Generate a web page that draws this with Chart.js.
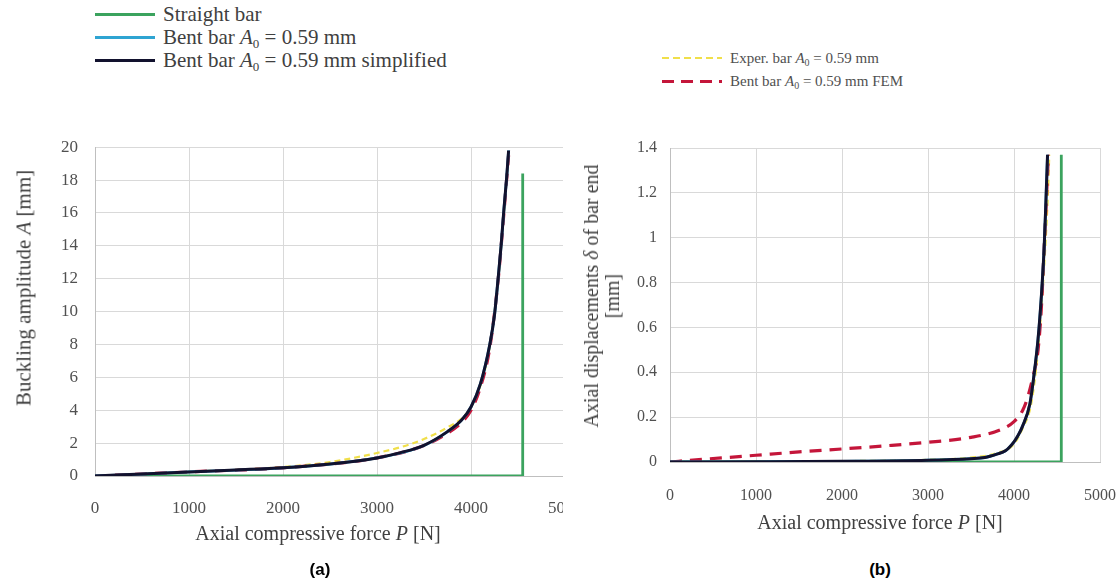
<!DOCTYPE html>
<html><head><meta charset="utf-8">
<script src="https://cdn.jsdelivr.net/npm/chart.js@4.4.0/dist/chart.umd.min.js"></script>
<style>
html,body{margin:0;padding:0;background:#fff;width:1120px;height:587px;overflow:hidden;position:relative;font-family:"Liberation Serif",serif;color:#404040}
.leg{position:absolute;white-space:nowrap}
.leg .ln{position:absolute;left:0;width:60px}
.leg .tx{position:absolute;top:0}
.lg1{font-size:21px;height:22px;line-height:22px}
.lg1 .ln{top:10px}
.lg1 .tx{left:68px}
.lg2{font-size:15px;height:20px;line-height:20px;color:#505050}
.lg2 .ln{top:9px}
.lg2 .tx{left:68px}
.ttl{position:absolute;font-size:20px;white-space:nowrap;transform:translate(-50%,-50%)}
.rot{transform:translate(-50%,-50%) rotate(-90deg);text-align:center;line-height:21px}
.cap{position:absolute;font-family:"Liberation Sans",Arial,sans-serif;font-weight:bold;font-size:17px;color:#000;transform:translate(-50%,-50%)}
.lg1 sub{font-size:13px;vertical-align:-4px;line-height:0}
.lg2 sub{font-size:10px;vertical-align:-3px;line-height:0}
</style>
</head><body>

<div class="leg lg1" style="left:95px;top:3px"><div class="ln" style="height:3px;background:#3ba35e"></div><div class="tx">Straight bar</div></div>
<div class="leg lg1" style="left:95px;top:26px"><div class="ln" style="height:3px;background:#2ea4d2"></div><div class="tx">Bent bar <i>A</i><sub>0</sub> = 0.59 mm</div></div>
<div class="leg lg1" style="left:95px;top:49px"><div class="ln" style="height:3px;background:#12122e"></div><div class="tx">Bent bar <i>A</i><sub>0</sub> = 0.59 mm simplified</div></div>
<div class="leg lg2" style="left:662px;top:48px"><div class="ln" style="height:2px;background:repeating-linear-gradient(90deg,#f0df4a 0 7px,transparent 7px 11px)"></div><div class="tx">Exper. bar <i>A</i><sub>0</sub> = 0.59 mm</div></div>
<div class="leg lg2" style="left:662px;top:71px"><div class="ln" style="height:3px;background:repeating-linear-gradient(90deg,#c4163a 0 12px,transparent 12px 19px)"></div><div class="tx">Bent bar <i>A</i><sub>0</sub> = 0.59 mm FEM</div></div>

<div style="position:absolute;left:0;top:120px;width:563px;height:420px;overflow:hidden">
  <canvas id="ca" width="610" height="420"></canvas>
</div>
<div style="position:absolute;left:600px;top:120px;width:545px;height:420px">
  <canvas id="cb" width="545" height="420"></canvas>
</div>

<div class="ttl rot" style="left:24px;top:288px;font-size:21px">Buckling amplitude <i>A</i> [mm]</div>
<div class="ttl" style="left:318px;top:533px">Axial compressive force <i>P</i> [N]</div>
<div class="ttl rot" style="left:602px;top:296px">Axial displacements <i>δ</i> of bar end<br>[mm]</div>
<div class="ttl" style="left:880px;top:522px">Axial compressive force <i>P</i> [N]</div>
<div class="cap" style="left:320px;top:570px">(a)</div>
<div class="cap" style="left:880px;top:570px">(b)</div>

<script>
// ---- Chart (a): buckling amplitude A [mm] vs P [N]
const aStraightP = [0, 4550, 4550];
const aStraightA = [0, 0, 18.4];
const aBentP = [0, 500, 1000, 1500, 2000, 2500, 3000, 3250, 3500, 3750, 3900, 4000, 4100, 4200, 4250, 4290, 4320, 4350, 4380, 4400];
const aBentA = [0, 0.12, 0.25, 0.36, 0.5, 0.72, 1.1, 1.4, 1.85, 2.7, 3.4, 4.2, 5.6, 8.0, 9.8, 12.1, 14.0, 16.2, 18.2, 19.8];
const aSimpP = [0, 500, 1000, 1500, 2000, 2500, 3000, 3250, 3500, 3750, 3900, 4000, 4100, 4200, 4250, 4290, 4320, 4350, 4380, 4400];
const aSimpA = [0, 0.12, 0.25, 0.37, 0.5, 0.73, 1.1, 1.42, 1.87, 2.7, 3.4, 4.2, 5.6, 8.0, 9.8, 12.1, 14.0, 16.2, 18.2, 19.8];
const aExpP = [0, 1000, 2000, 2500, 2750, 3000, 3250, 3500, 3750, 3900, 4000, 4100, 4200, 4290, 4350, 4400];
const aExpA = [0, 0.25, 0.55, 0.85, 1.1, 1.4, 1.75, 2.25, 2.95, 3.5, 4.2, 5.5, 7.9, 12.0, 16.0, 19.5];
const aFemP = [0, 1000, 2000, 3000, 3500, 3750, 3850, 4000, 4100, 4200, 4290, 4350, 4400];
const aFemA = [0, 0.25, 0.5, 1.1, 1.85, 2.6, 3.0, 4.0, 5.4, 7.8, 12.0, 16.0, 19.5];

// ---- Chart (b): axial displacement delta [mm] vs P [N]
const bStraightP = [0, 4550, 4550];
const bStraightD = [0, 0, 1.37];
const bBentP = [0, 1000, 2000, 3000, 3500, 3660, 3800, 3900, 4000, 4050, 4100, 4185, 4230, 4280, 4320, 4350, 4370, 4390];
const bBentD = [0, 0.001, 0.003, 0.008, 0.015, 0.02, 0.035, 0.05, 0.09, 0.12, 0.16, 0.26, 0.38, 0.55, 0.75, 0.95, 1.15, 1.37];
const bSimpP = [0, 1000, 2000, 3000, 3500, 3660, 3800, 3900, 4000, 4050, 4100, 4185, 4230, 4280, 4320, 4350, 4370, 4390];
const bSimpD = [0, 0.001, 0.003, 0.008, 0.015, 0.02, 0.035, 0.05, 0.09, 0.12, 0.16, 0.26, 0.38, 0.55, 0.75, 0.95, 1.15, 1.37];
const bExpP = [0, 2000, 3000, 3500, 3800, 4000, 4100, 4200, 4280, 4330, 4370, 4400, 4410];
const bExpD = [0, 0.004, 0.01, 0.02, 0.04, 0.08, 0.15, 0.26, 0.5, 0.75, 1.0, 1.25, 1.37];
const bFemP = [0, 300, 600, 1000, 1500, 2000, 2500, 3000, 3500, 3850, 4000, 4100, 4160, 4220, 4280, 4320, 4350, 4380, 4400];
const bFemD = [0, 0.01, 0.018, 0.03, 0.045, 0.058, 0.072, 0.088, 0.11, 0.145, 0.18, 0.23, 0.29, 0.38, 0.5, 0.7, 0.95, 1.2, 1.37];

const xTicks = [0, 1000, 2000, 3000, 4000, 5000];
const aYTicks = [0, 2, 4, 6, 8, 10, 12, 14, 16, 18, 20];
const bYTicks = [0, 0.2, 0.4, 0.6, 0.8, 1, 1.2, 1.4];

const seriesNames = ['Straight bar', 'Bent bar A0 = 0.59 mm', 'Bent bar A0 = 0.59 mm simplified', 'Exper. bar A0 = 0.59 mm', 'Bent bar A0 = 0.59 mm FEM'];

function pts(xs, ys){ return xs.map((x,i)=>({x:x, y:ys[i]})); }

function makeDatasets(s){
  return [
    {label:seriesNames[0], data:pts(s[0][0],s[0][1]), borderColor:'#3ba35e', borderWidth:2.8, tension:0, order:5},
    {label:seriesNames[3], data:pts(s[3][0],s[3][1]), borderColor:'#f0df4a', borderWidth:2.2, borderDash:[6,4], cubicInterpolationMode:'monotone', order:4},
    {label:seriesNames[4], data:pts(s[4][0],s[4][1]), borderColor:'#c4163a', borderWidth:3.2, borderDash:[12,8], cubicInterpolationMode:'monotone', order:3},
    {label:seriesNames[1], data:pts(s[1][0],s[1][1]), borderColor:'#2ea4d2', borderWidth:2.8, cubicInterpolationMode:'monotone', order:2},
    {label:seriesNames[2], data:pts(s[2][0],s[2][1]), borderColor:'#12122e', borderWidth:3, cubicInterpolationMode:'monotone', order:1}
  ].map(d=>Object.assign({showLine:true, pointRadius:0, fill:false}, d));
}

const gridCol = '#d9d9d9';

function makeChart(id, sets, yTicks, yMax, yWidth, xHeight, pad, yPad, xPad, fs){
  const tickFont = {family:'"Liberation Serif", serif', size:fs};
  return new Chart(document.getElementById(id), {
    type:'scatter',
    data:{datasets:makeDatasets(sets)},
    options:{
      responsive:false, animation:false, devicePixelRatio:1,
      layout:{padding:pad},
      plugins:{legend:{display:false}, tooltip:{enabled:false}},
      scales:{
        x:{type:'linear', min:0, max:5000,
           afterBuildTicks:(s)=>{s.ticks = xTicks.map(v=>({value:v}));},
           afterFit:(s)=>{s.height = xHeight;},
           ticks:{font:tickFont, color:'#505050', padding:xPad, maxRotation:0, callback:(v)=>String(v)},
           grid:{color:gridCol, drawTicks:false},
           border:{color:'#bfbfbf'}},
        y:{type:'linear', min:0, max:yMax,
           afterBuildTicks:(s)=>{s.ticks = yTicks.map(v=>({value:v}));},
           afterFit:(s)=>{s.width = yWidth;},
           ticks:{font:tickFont, color:'#505050', padding:yPad, callback:(v)=>String(Number(v.toFixed(1)))},
           grid:{color:gridCol, drawTicks:false},
           border:{color:'#bfbfbf'}}
      }
    }
  });
}

// chart area (a): x 95..565, y 140..476 ; chart area (b): x 670..1100, y 148..462
makeChart('ca',
  [[aStraightP,aStraightA],[aBentP,aBentA],[aSimpP,aSimpA],[aExpP,aExpA],[aFemP,aFemA]],
  aYTicks, 20, 95, 64, {top:20, right:45, left:0, bottom:0}, 17, 22, 17);
makeChart('cb',
  [[bStraightP,bStraightD],[bBentP,bBentD],[bSimpP,bSimpD],[bExpP,bExpD],[bFemP,bFemD]],
  bYTicks, 1.4, 70, 78, {top:28, right:45, left:0, bottom:0}, 13, 24, 16);
</script>
</body></html>
